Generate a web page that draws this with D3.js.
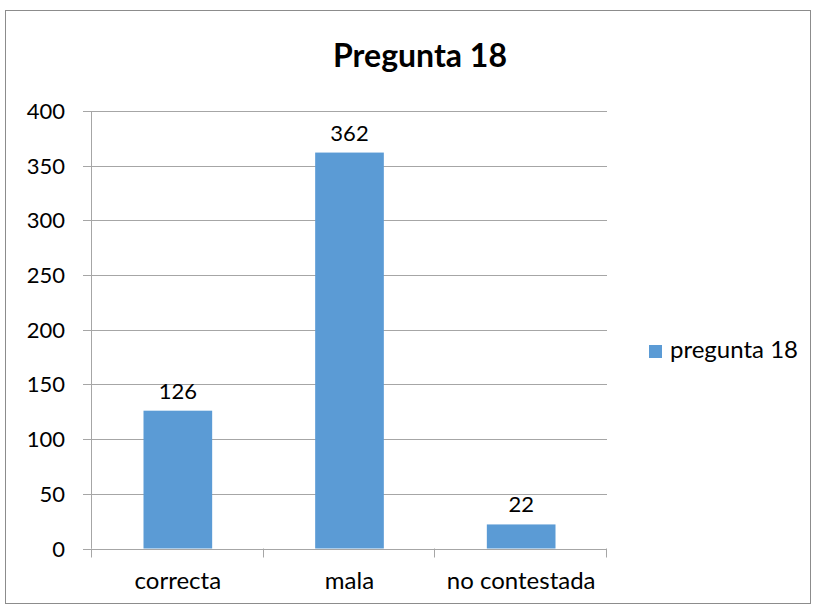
<!DOCTYPE html>
<html>
<head>
<meta charset="utf-8">
<script src="https://cdn.jsdelivr.net/npm/d3@7"></script>
<style>
body { margin:0; background:#fff; }
text { font-family: Lato, "Open Sans", sans-serif; fill:#000; }
</style>
</head>
<body>
<svg id="graph1"></svg>
<script>
var categories = ["correcta", "mala", "no contestada"]
var values = [126, 362, 22]
var yTicks = [0, 50, 100, 150, 200, 250, 300, 350, 400]
var seriesName = "pregunta 18"
var title = "Pregunta 18"

var screen = {width:817, height:610}
var margins = {top:111, left:92, right:210, bottom:62}

var svg = d3.select("#graph1")
    .attr("width", screen.width)
    .attr("height", screen.height)

// outer chart border
svg.append("rect")
    .attr("x", 5.5).attr("y", 10.5)
    .attr("width", 805).attr("height", 593)
    .attr("fill", "none")
    .attr("stroke", "#8c8c8c")
    .attr("stroke-width", 1)

var width = screen.width - margins.left - margins.right
var height = 548.5 - margins.top

var xScale = d3.scaleBand()
    .domain(categories)
    .range([0, width])
    .paddingInner(0.6)
    .paddingOuter(0.3)

var yScale = d3.scaleLinear()
    .domain([0, 400])
    .range([height, 0])

var g = svg.append("g")
    .attr("transform", "translate(" + margins.left + "," + margins.top + ")")

// gridlines + y labels
g.selectAll(".grid")
    .data(yTicks)
    .enter()
    .append("line")
    .attr("x1", -9)
    .attr("x2", width)
    .attr("y1", function(d){ return Math.round(yScale(d)) + 0.5 })
    .attr("y2", function(d){ return Math.round(yScale(d)) + 0.5 })
    .attr("stroke", "#a6a6a6")
    .attr("stroke-width", 1)

g.selectAll(".ylab")
    .data(yTicks)
    .enter()
    .append("text")
    .attr("x", -27)
    .attr("y", function(d){ return yScale(d) + 8 })
    .attr("text-anchor", "end")
    .style("font-size", "22px")
    .text(function(d){ return d })

// y axis line
g.append("line")
    .attr("x1", -0.5).attr("x2", -0.5)
    .attr("y1", 0).attr("y2", height)
    .attr("stroke", "#a6a6a6")

// x tick marks at category boundaries
var step = xScale.step()
var bounds = [0, 1, 2, 3]
g.selectAll(".xtick")
    .data(bounds)
    .enter()
    .append("line")
    .attr("x1", function(d){ return Math.round(d * step) - 0.5 })
    .attr("x2", function(d){ return Math.round(d * step) - 0.5 })
    .attr("y1", height)
    .attr("y2", height + 9)
    .attr("stroke", "#a6a6a6")

// bars
g.selectAll(".bar")
    .data(values)
    .enter()
    .append("rect")
    .attr("x", function(d, i){ return xScale(categories[i]) })
    .attr("width", xScale.bandwidth())
    .attr("y", function(d){ return yScale(d) })
    .attr("height", function(d){ return height - yScale(d) })
    .attr("fill", "#5b9bd5")

// value labels
g.selectAll(".vlab")
    .data(values)
    .enter()
    .append("text")
    .attr("x", function(d, i){ return xScale(categories[i]) + xScale.bandwidth() / 2 })
    .attr("y", function(d){ return yScale(d) - 12 })
    .attr("text-anchor", "middle")
    .style("font-size", "22px")
    .text(function(d){ return d })

// category labels
g.selectAll(".xlab")
    .data(categories)
    .enter()
    .append("text")
    .attr("x", function(d){ return xScale(d) + xScale.bandwidth() / 2 })
    .attr("y", height + 40)
    .attr("text-anchor", "middle")
    .style("font-size", "24px")
    .text(function(d){ return d })

// title
svg.append("text")
    .attr("x", 420)
    .attr("y", 67)
    .attr("text-anchor", "middle")
    .style("font-size", "32px")
    .style("font-weight", "bold")
    .text(title)

// legend
svg.append("rect")
    .attr("x", 649).attr("y", 345)
    .attr("width", 13).attr("height", 13)
    .attr("fill", "#5b9bd5")
svg.append("text")
    .attr("x", 670)
    .attr("y", 358)
    .style("font-size", "24px")
    .text(seriesName)
</script>
</body>
</html>
